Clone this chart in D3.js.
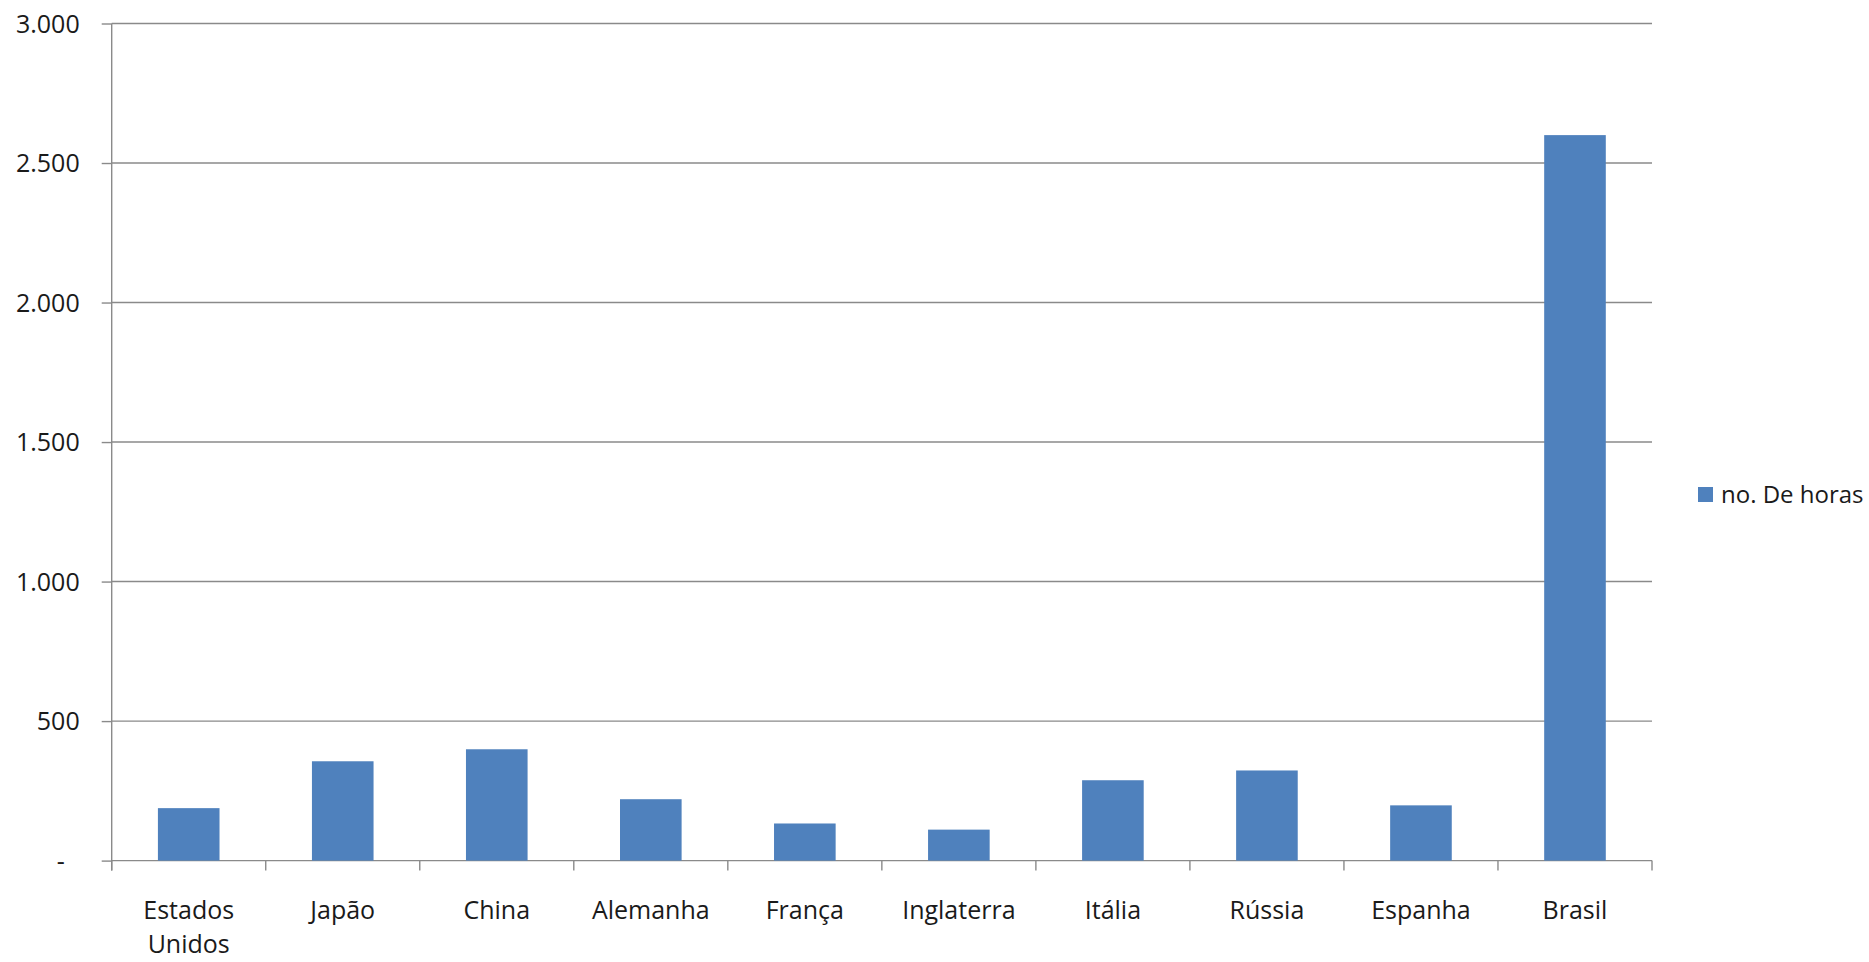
<!DOCTYPE html>
<html>
<head>
<meta charset="utf-8">
<script src="https://cdn.jsdelivr.net/npm/d3@7"></script>
<style>
  body { margin: 0; background: #fff; }
  text { font-family: "Open Sans", "Noto Sans", sans-serif; fill: #1a1a1a; }
</style>
</head>
<body>
<script>
// data
var paises = ["Estados Unidos", "Japão", "China", "Alemanha", "França", "Inglaterra", "Itália", "Rússia", "Espanha", "Brasil"]
var horas = [188, 356, 399, 220, 133, 111, 288, 323, 198, 2600]
var yTicks = [0, 500, 1000, 1500, 2000, 2500, 3000]
var serie = "no. De horas"

var W = 1869, H = 962
// (window.top is read-only, so no "top" here)
var plotLeft = 111.7, plotRight = 1652, plotTop = 23.5, plotBottom = 860.6
var gridColor = "#8a8a8a", barColor = "#4f81bd"

var ptBR = d3.formatLocale({decimal: ",", thousands: ".", grouping: [3], currency: ["", ""]})
var fmt = ptBR.format(",")

var data = paises.map(function(p, i) { return {pais: p, horas: horas[i]} })

var svg = d3.select("body").append("svg")
    .attr("width", W)
    .attr("height", H)

var y = d3.scaleLinear().domain([0, 3000]).range([plotBottom, plotTop])

var x = d3.scaleBand()
    .domain(paises)
    .range([plotLeft, plotRight])
    .paddingInner(0.6)
    .paddingOuter(0.3)

var xCells = d3.scaleBand().domain(paises).range([plotLeft, plotRight]).padding(0)

// y ticks + labels
var yAxis = d3.axisLeft(y)
    .tickValues(yTicks)
    .tickSize(10)
    .tickFormat(function(d) { return d === 0 ? "-" : fmt(d) })

var gy = svg.append("g")
    .attr("transform", "translate(" + plotLeft + ",0)")
    .call(yAxis)
gy.select(".domain").remove()
gy.selectAll(".tick line").attr("stroke", gridColor).attr("stroke-width", 1.4)
gy.selectAll(".tick text")
    .attr("x", -32)
    .attr("dy", "0.35em")
    .style("font-size", "25px")
    .style("font-family", "'Open Sans', sans-serif")
    .attr("fill", "#1a1a1a")
gy.selectAll(".tick text").filter(function(d) { return d === 0 }).attr("x", -47)

// gridlines
svg.append("g")
  .selectAll("line")
  .data(yTicks)
  .enter().append("line")
    .attr("x1", plotLeft)
    .attr("x2", plotRight)
    .attr("y1", function(d) { return y(d) })
    .attr("y2", function(d) { return y(d) })
    .attr("stroke", gridColor)
    .attr("stroke-width", 1.4)

// y axis line
svg.append("line")
    .attr("x1", plotLeft).attr("x2", plotLeft)
    .attr("y1", plotTop).attr("y2", plotBottom + 10)
    .attr("stroke", gridColor)
    .attr("stroke-width", 1.4)

// category boundary ticks
var bounds = paises.map(function(p) { return xCells(p) }).concat([plotRight])
svg.append("g")
  .selectAll("line")
  .data(bounds)
  .enter().append("line")
    .attr("x1", function(d) { return d })
    .attr("x2", function(d) { return d })
    .attr("y1", plotBottom)
    .attr("y2", plotBottom + 10)
    .attr("stroke", gridColor)
    .attr("stroke-width", 1.4)

// bars
svg.append("g")
  .selectAll("rect")
  .data(data)
  .enter().append("rect")
    .attr("x", function(d) { return x(d.pais) })
    .attr("width", x.bandwidth())
    .attr("y", function(d) { return y(d.horas) })
    .attr("height", function(d) { return plotBottom - y(d.horas) })
    .attr("fill", barColor)

// category labels, two lines for "Estados Unidos"
var lbl = svg.append("g")
  .selectAll("text")
  .data(paises)
  .enter().append("text")
    .attr("x", function(d) { return x(d) + x.bandwidth() / 2 })
    .attr("y", 919)
    .attr("text-anchor", "middle")
    .style("font-size", "25px")

lbl.each(function(d) {
  var words = d.split(" ")
  var t = d3.select(this)
  words.forEach(function(w, i) {
    t.append("tspan")
      .attr("x", x(d) + x.bandwidth() / 2)
      .attr("dy", i === 0 ? 0 : 34)
      .text(w)
  })
})

// legend
svg.append("rect")
    .attr("x", 1698)
    .attr("y", 487)
    .attr("width", 15)
    .attr("height", 15)
    .attr("fill", barColor)

svg.append("text")
    .attr("x", 1721)
    .attr("y", 503)
    .style("font-size", "24px")
    .text(serie)
</script>
</body>
</html>
